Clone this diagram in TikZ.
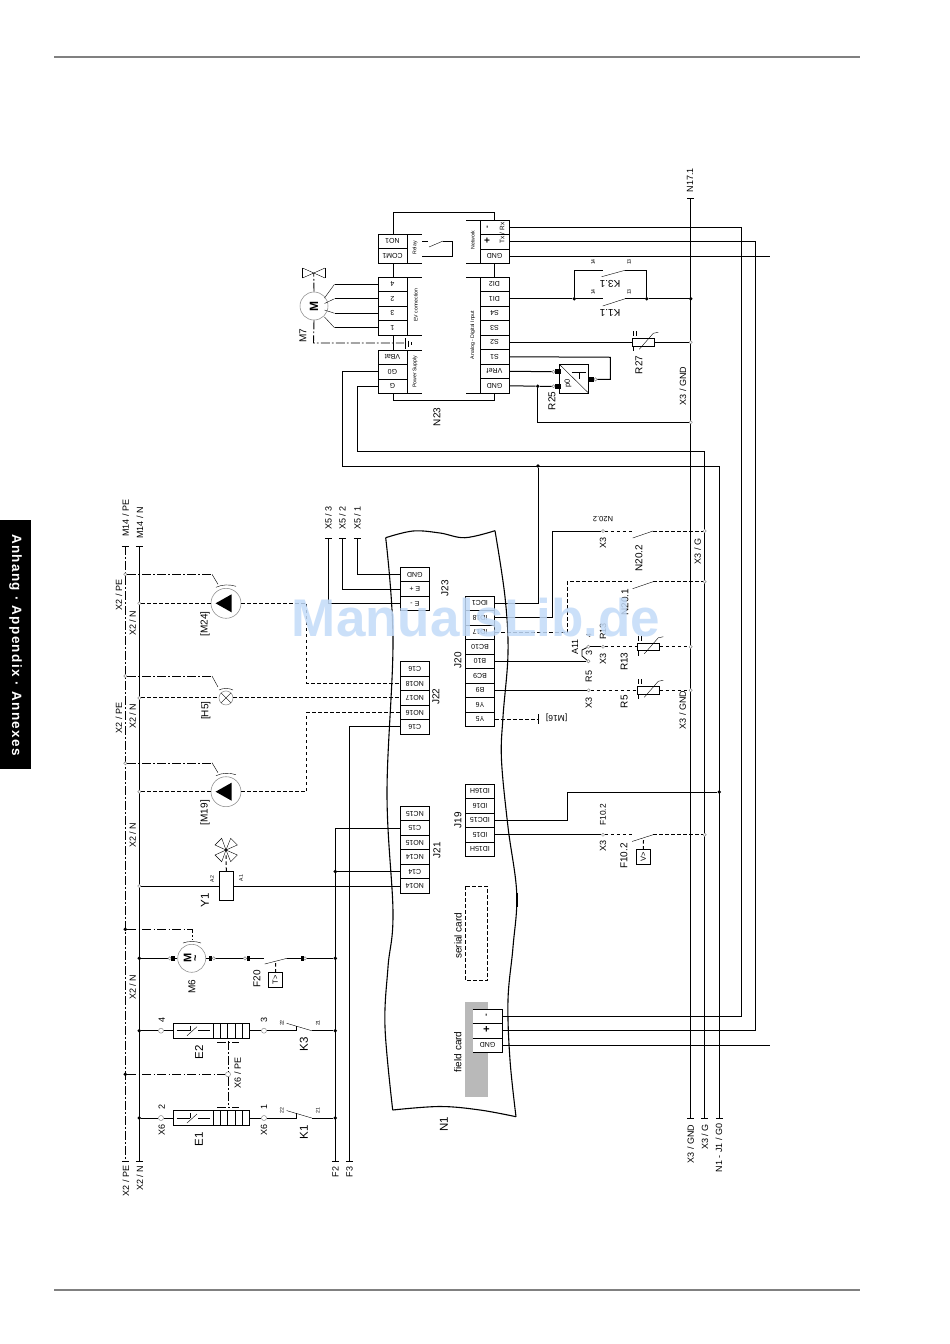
\documentclass[tikz,border=0pt]{standalone}
\usepackage{fontspec}
\setmainfont{Liberation Sans}
\newfontfamily\tabfont[LetterSpace=10]{Liberation Sans}
\usetikzlibrary{calc}
\definecolor{wm}{HTML}{C3DBF8}
\definecolor{thin}{gray}{0.55}
\newcounter{lc}
\tikzset{
  wire/.style={line width=1pt,black},
  dsh/.style={line width=1pt,black,dash pattern=on 3.6pt off 2.4pt},
  pe/.style={line width=.9pt,black,dash pattern=on 9pt off 2.2pt on 1.6pt off 2.2pt},
  fine/.style={line width=.5pt,thin},
  cellbox/.style={draw,line width=.9pt,fill=white,minimum width=29pt,minimum height=14.5pt,inner sep=0pt,font=\fontsize{7}{7}\selectfont},
  lbl/.style={rotate=90,inner sep=0pt,font=\fontsize{9}{10}\selectfont},
  big/.style={font=\fontsize{11.5}{12}\selectfont},
  mid/.style={font=\fontsize{10}{11}\selectfont},
  tiny/.style={font=\fontsize{5.2}{5.5}\selectfont},
  flip/.style={rotate=90},
  term/.style={circle,draw=thin,fill=white,inner sep=0pt,minimum size=3.2pt,line width=.5pt},
  jdot/.style={circle,fill=black,inner sep=0pt,minimum size=3.8pt},
  fuse/.style={rectangle,fill=black,inner sep=0pt,minimum width=3.6pt,minimum height=4.6pt},
  coil/.style={draw,line width=.9pt,fill=white,inner sep=0pt},
  tick/.style={line width=1pt}
}
\newcommand{\lab}[4][]{\stepcounter{lc}\node[lbl,#1] (lab\arabic{lc}) at (#2,#3) {#4};}
\newcommand{\cellcol}[4]{\foreach \t [count=\i] in {#4} {\node[cellbox] (#1-\i) at (#2,{#3+(\i-.5)*14.5}) {\rotatebox{180}{\t}};}}
\newcommand{\pump}[3]{%
  \node[circle,draw=thin,line width=.55pt,minimum size=30pt,inner sep=0pt] (#1) at (#2,#3) {};
  \fill[black] (#2-10.4,#3) -- (#2+5.6,#3-9) -- (#2+5.6,#3+9) -- cycle;
  \draw[fine] (#2-14,#3-29) -- (#2-8,#3-19);
  \draw[fine] (#2-10,#3-16) .. controls (#2-4,#3-19) and (#2+4,#3-19) .. (#2+10,#3-17);
}
\newcommand{\heater}[2]{%
  \node[coil,minimum width=76.4pt,minimum height=15pt] (#1) at (211.5,#2) {};
  \draw[line width=.8pt] (176.7,#2) -- (190,#2) (190,#2-5) -- (190,#2);
  \draw[fine] (187,#2+5) -- (197,#2-4);
  \draw[line width=.8pt] (198,#2) -- (210,#2);
  \foreach \x in {213,220.3,227.8,235,242.2} {\draw[line width=.9pt] (\x,#2-7.5) -- (\x,#2+7.5);}
}
\newcommand{\rsens}[3]{%
  \node[coil,minimum width=22pt,minimum height=7.4pt] (#1) at (#2+11,#3) {};
  \draw[fine] (#2+7,#3+7) -- (#2+21,#3-9) -- (#2+26,#3-10);
  \draw[line width=.8pt] (#2+1,#3-11) -- (#2+1,#3-6) (#2+4,#3-11) -- (#2+4,#3-6) (#2+1,#3+4) -- (#2+1,#3+9);
}
\begin{document}
\begin{tikzpicture}[x=1pt,y=-1pt]
\useasboundingbox (0,0) rectangle (950,1344);
\fill[white] (0,0) rectangle (950,1344);
% page furniture
\coordinate (rt1) at (54,57); \coordinate (rt2) at (860,57);
\coordinate (rb1) at (54,1290); \coordinate (rb2) at (860,1290);
\draw[line width=1.1pt,gray] (rt1) -- (rt2) (rb1) -- (rb2);
\fill[black] (0,520) rectangle (31,769);
\node[rotate=-90,text=white,inner sep=0pt,font=\tabfont\bfseries\fontsize{13.5}{14}\selectfont] (tab) at (15.5,645) {Anhang · Appendix · Annexes};

% buses
\coordinate (peT) at (125.3,546); \coordinate (peB) at (125.3,1161);
\coordinate (nT) at (139.3,546); \coordinate (nB) at (139.3,1161);
\coordinate (f2T) at (335.3,828); \coordinate (f2B) at (335.3,1161);
\coordinate (f3T) at (349.3,727); \coordinate (f3B) at (349.3,1161);
\coordinate (gndT) at (690.7,198); \coordinate (gndB) at (690.7,1118);
\coordinate (gT) at (704.7,451.7); \coordinate (gB) at (704.7,1118);
\coordinate (g0T) at (719.3,466); \coordinate (g0B) at (719.3,1118);
\draw[pe] (peT) -- (peB);
\draw[wire] (nT) -- (nB) (f2T) -- (f2B) (f3T) -- (f3B) (gndT) -- (gndB) (gT) -- (gB) (g0T) -- (g0B);
\foreach \p/\w in {peT/3.5,peB/3.5,nT/3.5,nB/3.5,f2B/3.5,f3B/3.5,gndT/3.5,gndB/3.5,gB/3.5,g0B/3.5} {\draw[tick] ($(\p)+(-\w,0)$) -- ($(\p)+(\w,0)$);}

% N1 housing
\draw[line width=1.1pt] plot[smooth,tension=.6] coordinates {(385.7,537.7) (413,531) (440,533) (465,537.7) (495,530.7)};
\draw[line width=1.1pt] plot[smooth,tension=.6] coordinates {(495,530.7) (505,597) (508,653) (503,716.7) (501.5,760) (508,827) (516.7,893) (513,947) (508,1000) (510,1060) (516,1116.7)};
\draw[line width=1.1pt] plot[smooth,tension=.6] coordinates {(516,1116.7) (480,1110) (440,1106.5) (392.7,1110)};
\draw[line width=1.1pt] plot[smooth,tension=.6] coordinates {(392.7,1110) (385,1027) (388,967) (393,913) (387,793) (393,640) (385.7,537.7)};
\fill[black] (515.5,893) rectangle (517.8,907);

% field card
\fill[gray!55] (465,1001.7) rectangle (487.7,1096.7);
\node[fill=white,minimum width=29.8pt,minimum height=14.5pt,inner sep=0pt] (fc-1) at (487.6,1016.3) {};
\node[fill=white,minimum width=29.8pt,minimum height=14.5pt,inner sep=0pt] (fc-2) at (487.6,1030.8) {};
\node[fill=white,minimum width=29.8pt,minimum height=14.5pt,inner sep=0pt,font=\fontsize{7}{7}\selectfont] (fc-3) at (487.6,1045.3) {\rotatebox{180}{GND}};
\draw[line width=.9pt] (472.7,1009) -- (502.5,1009) -- (502.5,1052.5) -- (472.7,1052.5) (472.7,1023.5) -- (502.5,1023.5) (472.7,1038) -- (502.5,1038);
\lab[font=\bfseries\fontsize{8}{8}\selectfont]{487}{1015.5}{-}
\lab[font=\bfseries\fontsize{11}{11}\selectfont]{487}{1029.5}{+}
\lab[mid]{457.7}{1051.7}{field card}
\lab[mid]{458}{935.7}{serial card}
\draw[dsh,line width=.9pt] (465.3,886) rectangle (487.3,980.3);

% connector columns
\cellcol{j21}{414.8}{806.3}{NC15,C15,NO15,NC14,C14,NO14}
\cellcol{j22}{414.8}{661.7}{C16,NO18,NO17,NO16,C16}
\cellcol{j23}{414.8}{567.3}{GND,E +,E -}
\cellcol{j20}{480}{596}{IDC1,ID18,ID17,BC10,B10,BC9,B9,Y6,Y5}
\cellcol{j19}{480}{784}{ID16H,ID16,IDC15,ID15,ID15H}
\lab[mid]{437}{850}{J21} \lab[mid]{436}{696.7}{J22} \lab[mid]{445}{588}{J23} \lab[mid]{458}{660}{J20} \lab[mid]{458}{820}{J19}
\lab[big]{444}{1124}{N1}

% N23
\draw[line width=.9pt] (393.5,234) -- (393.5,212) -- (494.5,212) -- (494.5,220) (393.5,263) -- (393.5,277) (494.5,263) -- (494.5,277) (393.5,335) -- (393.5,350) (393.5,393) -- (393.5,400) -- (494.5,400) -- (494.5,393);
\cellcol{nr}{392.5}{234}{NO1,COM1}
\cellcol{ne}{392.5}{277}{4,2,3,1}
\cellcol{np}{392.5}{350}{VBat,G0,G}
\cellcol{nn}{494.5}{220}{{},{},GND}
\cellcol{nd}{494.5}{277}{DI2,DI1,S4,S3,S2,S1,VRef,GND}
\draw[line width=.9pt] (407,234) -- (422,234) (407,263) -- (422,263) (407,277) -- (422,277) (407,335) -- (422,335) (407,350) -- (422,350) (407,393.5) -- (422,393.5);
\draw[line width=.9pt] (466,220) -- (480,220) (466,263.5) -- (480,263.5) (466,277) -- (480,277) (466,393) -- (480,393);
\lab[tiny]{415}{248}{Relay} \lab[tiny]{472.7}{240}{Network} \lab[tiny]{415.7}{305}{EV connection}
\lab[tiny]{415}{371.7}{Power Supply} \lab[tiny]{472.7}{335}{Analog - Digital Input}
\lab[font=\fontsize{6.5}{7}\selectfont]{502}{233}{Tx / Rx}
\lab[font=\bfseries\fontsize{8}{8}\selectfont]{488}{227}{-}
\lab[font=\bfseries\fontsize{10}{10}\selectfont]{487.5}{241}{+}
\lab[mid]{437}{417}{N23}
% relay contact
\draw[line width=.8pt] (422,241) -- (428,241) (443,241) -- (452,241) -- (452,256) -- (422,256);
\draw[fine] (429,247) -- (443,241);
% earth
\draw[line width=.9pt] (405,338) -- (405,349) (408,340.5) -- (408,346.5) (411,342) -- (411,345);
% M7
\node[circle,draw=thin,line width=.55pt,minimum size=28pt,inner sep=0pt,font=\bfseries\fontsize{12}{12}\selectfont] (m7) at (314,306) {\rotatebox{90}{M}};
\foreach \k/\yy/\ty in {1/284.25/298,2/298.75/303.5,3/313.25/310,4/327.75/317} {
  \coordinate (m7p\k) at (334.5,\yy);
  \draw[wire] (ne-\k.west) -- (m7p\k);
  \draw[fine] (m7p\k) -- (324.5,\ty);
}
\coordinate (ev1) at (313.5,343); \coordinate (ev2) at (404,343);
\draw[pe] (m7.south) -- (ev1) -- (ev2);
\coordinate (vl) at (313.7,273);
\draw[pe] (m7.north) -- (vl);
\draw[fine] (302.5,268) -- (325,278) (325,268) -- (302.5,278);
\draw[line width=.8pt] (302.5,268) -- (302.5,278) (325,268) -- (325,278);
\lab[mid]{303}{336}{M7}

% right wires from N23
\coordinate (txc) at (741.5,227.25); \coordinate (txb) at (741.5,1016.3);
\coordinate (rxc) at (755.5,241.75); \coordinate (rxb) at (755.5,1030.8);
\coordinate (gne) at (770,256.25); \coordinate (gse) at (770,1045.3);
\draw[wire] (nn-1.east) -- (txc) -- (txb) -- (fc-1.east);
\draw[wire] (nn-2.east) -- (rxc) -- (rxb) -- (fc-2.east);
\draw[wire] (nn-3.east) -- (gne);
\draw[wire] (fc-3.east) -- (gse);
\lab{690}{180}{N17.1}
\lab{683}{386}{X3 / GND}
% left wires to buses
\coordinate (g0a) at (342.7,466); \coordinate (ga) at (357.5,451.7);
\node[jdot] (dIdc) at (538,466) {};
\draw[wire] (np-2.west) -| (g0a) -- (g0T);
\draw[wire] (np-3.west) -| (ga) -- (gT);
\draw[wire] (j20-1.east) -| (dIdc);

% DI1 K contacts
\node[jdot] (d1) at (574.3,298.75) {}; \node[jdot] (d2) at (646.7,298.75) {}; \node[jdot] (d3) at (690.7,298.75) {};
\coordinate (k1a) at (602.7,298.75); \coordinate (k1b) at (625,298.75);
\coordinate (k3a) at (602.7,270.3); \coordinate (k3b) at (625,270.3);
\draw[wire] (nd-2.east) -- (d1) -- (k1a) (k1b) -- (d2) -- (d3);
\draw[wire] (d1) |- (k3a) (k3b) -| (d2);
\draw[fine] (601.7,276.7) -- (k3b) (602.7,306) -- (k1b);
\lab[tiny]{593}{262}{14} \lab[tiny]{629}{262}{13} \lab[tiny]{593}{292}{14} \lab[tiny]{629}{292}{13}
\lab[flip,mid]{610}{284}{K3.1} \lab[flip,mid]{610}{313}{K1.1}

% R27
\rsens{r27}{632.3}{342.25}
\node[term] (t27) at (690.7,342.25) {};
\draw[wire] (nd-5.east) -- (r27.west) (r27.east) -- (t27);
\lab[mid]{639}{365}{R27}

% R25 sensor
\node[draw=black,line width=.9pt,fill=white,minimum size=29pt,inner sep=0pt] (r25) at (573.8,378.7) {};
\draw[fine] (560,365) -- (588,392.5);
\draw[line width=.8pt] (571.7,372.7) -- (586,372.7) (579.3,372.7) -- (579.3,379);
\lab[font=\fontsize{7.5}{8}\selectfont]{568}{383}{p0}
\node[term] (s1) at (553.5,371.75) {}; \node[term] (s2) at (553.5,386.25) {}; \node[term] (s3) at (595.5,379.3) {};
\node[jdot] (d4) at (537.8,386.25) {};
\node[term] (t25) at (690.7,422.3) {};
\coordinate (s1a) at (610.3,357.25);
\draw[wire] (nd-7.east) -- (s1) (nd-8.east) -- (d4) -- (s2);
\draw[wire] (nd-6.east) -- (s1a) |- (s3);
\draw[wire] (d4) |- (t25);
\node[fuse,minimum width=6pt] at (558,371.75) {}; \node[fuse,minimum width=6pt] at (558,386.25) {}; \node[fuse,minimum width=6pt] at (590.5,379.3) {};
\lab[mid]{552}{401}{R25}

% X5 lines
\coordinate (x51) at (357.3,538.3); \coordinate (x52) at (342.3,538.3); \coordinate (x53) at (328.3,538.3);
\draw[wire] (j23-1.west) -| (x51) (j23-2.west) -| (x52) (j23-3.west) -| (x53);
\foreach \p in {x51,x52,x53} {\draw[tick] ($(\p)+(-3.5,0)$) -- ($(\p)+(3.5,0)$);}
\lab{328.3}{518}{X5 / 3} \lab{342.3}{518}{X5 / 2} \lab{357.3}{518}{X5 / 1}
\lab{125.7}{518}{M14 / PE} \lab{140}{523}{M14 / N}
\lab{126}{1181}{X2 / PE} \lab{140}{1178}{X2 / N}
\lab{335.5}{1172}{F2} \lab{349.5}{1172}{F3}
\lab{119}{595}{X2 / PE} \lab{132.7}{623}{X2 / N} \lab{119}{718}{X2 / PE} \lab{132.7}{716}{X2 / N}
\lab{132.7}{835}{X2 / N} \lab{132.7}{987}{X2 / N}
\lab{690.7}{1144}{X3 / GND} \lab{705}{1137}{X3 / G} \lab{719}{1148}{N1 - J1 / G0}

% pumps
\pump{m24}{226}{603.3}
\pump{m19}{226}{791.7}
\node[circle,draw=thin,line width=.55pt,minimum size=14pt,inner sep=0pt] (h5) at (226,697.95) {};
\draw[fine] (221,692.95) -- (231,702.95) (231,692.95) -- (221,702.95);
\draw[fine] (212,676) -- (218,687) (219,690) .. controls (222,688) and (230,688) .. (233,690);
\node[term] (tn1) at (139.3,603.3) {}; \node[term] (tn2) at (139.3,697.95) {}; \node[term] (tn3) at (139.3,791.7) {};
\node[term] (tp1) at (125.3,574.3) {}; \node[term] (tp2) at (125.3,676) {}; \node[term] (tp3) at (125.3,763.3) {};
\coordinate (p1) at (212,574.3); \coordinate (p2) at (212,676); \coordinate (p3) at (212,763.3);
\draw[pe] (tp1) -- (p1) (tp2) -- (p2) (tp3) -- (p3);
\coordinate (a1) at (306.7,683.45); \coordinate (a3) at (306.7,712.45);
\draw[dsh] (tn1) -- (m24) (m24) -| (a1) -- (j22-2.west);
\draw[dsh] (tn2) -- (h5) (h5) -- (j22-3.west);
\draw[dsh] (tn3) -- (m19) (m19) -| (a3) -- (j22-4.west);
\draw[wire] (j22-5.west) -| (f3T);
\lab[mid]{205}{624}{[M24]} \lab[mid]{205.7}{710.7}{[H5]} \lab[mid]{205}{812.7}{[M19]}

% Y1
\node[coil,minimum width=14pt,minimum height=29.3pt] (y1) at (226.3,886.05) {};
\node[term] (ty1) at (139.3,886.05) {};
\node[jdot] (dc14) at (335.3,871.55) {};
\draw[wire] (j21-6.west) -- (y1) (y1) -- (ty1);
\draw[wire] (j21-5.west) -- (dc14);
\draw[wire] (j21-2.west) -| (f2T);
\coordinate (fan) at (226,850);
\draw[dsh] (y1.north) -- (226,855);
\foreach \a/\b/\c/\d in {-11/-5/-4.3/-11.7,4.7/-11.7/11.3/-5,-11/5/-4.3/11.7,4.7/11.7/11.3/5} {\draw[fine] (fan) -- ($(fan)+(\a,\b)$) -- ($(fan)+(\c,\d)$) -- cycle;}
\lab[big]{205}{900}{Y1} \lab[tiny]{212}{879}{A2} \lab[tiny]{241}{878}{A1}

% M6
\node[circle,draw=thin,line width=.55pt,minimum size=28pt,inner sep=0pt] (m6) at (191.7,958.3) {};
\node[inner sep=0pt,font=\bfseries\fontsize{11}{11}\selectfont,rotate=90] (m6m) at (187.5,958.3) {M};
\node[inner sep=0pt,font=\bfseries\fontsize{11}{11}\selectfont,rotate=90] (m6t) at (196.5,958.3) {\textasciitilde};
\node[jdot] (dn6) at (139.3,958.3) {}; \node[jdot] (df6) at (335.3,958.3) {};
\node[jdot] (dp6) at (125.3,929.3) {};
\coordinate (f20a) at (264,958.3); \coordinate (f20b) at (287,958.3); \coordinate (pm6) at (192.7,939.5);
\draw[wire] (dn6) -- (m6) (m6) -- (f20a) (f20b) -- (df6);
\draw[pe] (dp6) -| (pm6);
\draw[fine] (264.7,964) -- (f20b) (183,943) .. controls (188,941) and (196,941) .. (201,943);
\foreach \x/\tx in {173/169.7,210.5/213.8,248.3/245,302.5/305} {\node[term] at (\tx,958.3) {}; \node[fuse] at (\x,958.3) {};}
\node[draw,line width=.9pt,minimum size=14.6pt,inner sep=0pt,font=\fontsize{7.5}{8}\selectfont] (f20b2) at (275.4,980) {\rotatebox{90}{T>}};
\draw[dsh] (275.6,963) -- (f20b2);
\lab[mid]{257}{979}{F20} \lab[mid]{192}{987}{M6}

% E2, E1
\foreach \nm/\yy/\tl/\tr/\kk in {e2/1030.7/4/3/K3,e1/1118/2/1/K1} {
  \heater{\nm}{\yy}
  \node[term,minimum size=5pt] (\nm l) at (161,\yy) {};
  \node[term,minimum size=5pt] (\nm r) at (264,\yy) {};
  \node[jdot] (\nm n) at (139.3,\yy) {};
  \node[jdot] (\nm f) at (335.3,\yy) {};
  \coordinate (\nm ka) at (296.5,\yy); \coordinate (\nm kb) at (311.7,\yy);
  \draw[wire] (\nm n) -- (\nm l) (\nm l) -- (\nm) (\nm) -- (\nm r) (\nm r) -- (\nm ka) (\nm kb) -- (\nm f);
  \draw[wire] (\nm ka) -- ++(0,-5);
  \draw[fine] ($(\nm kb)+(-25,-7.4)$) -- (\nm kb);
  \lab{161.7}{\yy-11}{\tl}
  \lab{264}{\yy-11}{\tr}
  \lab[tiny]{281.7}{\yy-7.7}{22}
  \lab[tiny]{317.7}{\yy-7.7}{21}
}
\lab{161.7}{1130}{X6} \lab{264}{1130}{X6}
\lab[big]{199}{1052}{E2} \lab[big]{199}{1139}{E1}
\lab[big]{304}{1044}{K3} \lab[big]{304}{1132}{K1}
\node[term,minimum size=5pt] (tpe) at (228,1074.3) {};
\node[jdot] (dpe) at (125.3,1074.3) {};
\draw[pe] (dpe) -- (tpe);
\draw[pe] (228,1041) -- (tpe) (tpe) -- (228,1107);
\draw[pe] (217,1042) -- (239,1042) (217,1107) -- (239,1107);
\lab{237.7}{1073}{X6 / PE}

% J19 wires
\node[jdot] (d19) at (719.3,792) {};
\coordinate (j19a) at (567.3,792);
\draw[wire] (j19-3.east) -| (j19a) -- (d19);
\node[term] (tx102) at (603,834.75) {}; \node[term] (tg102) at (704.7,834.75) {};
\coordinate (c1a) at (632,834.75); \coordinate (c1b) at (653,834.75);
\draw[wire] (j19-4.east) -- (tx102);
\draw[dsh] (tx102) -- (c1a) (c1b) -- (tg102);
\draw[fine] (632,841.5) -- (c1b);
\node[draw,line width=.9pt,minimum size=14.2pt,inner sep=0pt,font=\fontsize{7.5}{8}\selectfont] (v1) at (643.3,857) {\rotatebox{90}{V>}};
\draw[dsh] (643.5,840) -- (v1);
\lab{603}{846}{X3} \lab[font=\fontsize{8.4}{9}\selectfont]{603}{815}{F10.2} \lab[mid]{624}{856}{F10.2}

% J20 wires
\node[term] (tx20) at (603,531) {}; \node[term] (tg20) at (704.7,531) {};
\coordinate (c2a) at (632,531); \coordinate (c2b) at (653,531);
\draw[wire] (j20-2.east) -| (552.3,531) -- (tx20);
\draw[dsh] (tx20) -- (c2a) (c2b) -- (tg20);
\draw[fine] (632.7,538) -- (c2b);
\lab{603}{543}{X3} \lab[mid]{639}{558}{N20.2} \lab[flip,font=\fontsize{7.5}{8}\selectfont]{603}{519}{N20.2}
\lab{697.7}{551.7}{X3 / G}
\node[term] (tg21) at (704.7,581.7) {};
\coordinate (c3a) at (632,581.7); \coordinate (c3b) at (653,581.7);
\draw[dsh] (j20-3.east) -| (567.3,581.7) -- (c3a) (c3b) -- (tg21);
\draw[fine] (632.7,588.7) -- (c3b);
\lab[mid]{625}{602}{N20.1}
% R13
\rsens{r13}{637.3}{646.75}
\node[term] (ta) at (588.3,646.75) {}; \node[term] (tb) at (603,646.75) {}; \node[term] (tc) at (588.3,661.25) {}; \node[term] (td) at (690.7,646.75) {};
\draw[wire] (ta) -- (tb);
\draw[line width=.8pt] (ta) -- (582,650) -- (582,656) -- (tc);
\draw[dsh] (tb) -- (r13.west) (r13.east) -- (td);
\draw[wire] (j20-5.east) -- (tc);
% R5
\rsens{r5}{637.3}{690.25}
\node[term] (te) at (588.7,690.25) {}; \node[term] (tf) at (690.7,690.25) {};
\draw[wire] (j20-7.east) -- (te);
\draw[dsh] (te) -- (r5.west) (r5.east) -- (tf);
\coordinate (y5) at (538.7,719.25);
\draw[dsh] (j20-9.east) -- (y5);
\draw[tick] (538.7,714) -- (538.7,724);
\lab[flip,font=\fontsize{8.5}{9}\selectfont]{556.7}{718}{[M16]}
\lab{575}{646.7}{A11} \lab{589}{652.7}{3} \lab[font=\fontsize{7}{8}\selectfont]{589}{636}{4}
\lab{603}{631.7}{R13} \lab{603}{659}{X3} \lab{588.7}{676.7}{R5} \lab{588.7}{702.7}{X3}
\lab[mid]{624.3}{661.7}{R13} \lab[mid]{624.3}{701.7}{R5}
\lab{682.7}{710}{X3 / GND}

% watermark
\node[inner sep=0pt,text=wm,text opacity=.85,font=\bfseries\fontsize{53}{57}\selectfont] (wmk) at (476,618) {ManualsLib.de};
\end{tikzpicture}
\end{document}
